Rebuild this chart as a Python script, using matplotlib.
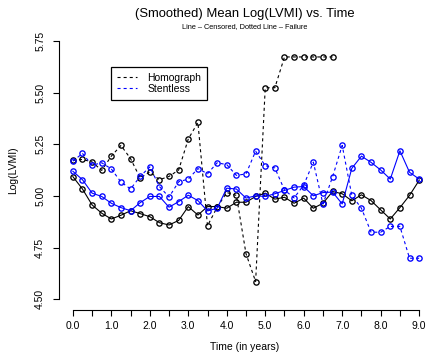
import numpy as np
import matplotlib
matplotlib.use('Agg')
import matplotlib.pyplot as plt

plt.rcParams['font.family'] = ['Liberation Sans', 'DejaVu Sans']
plt.rcParams['lines.scale_dashes'] = False

# yearly grid, smoothed every quarter year
times = np.arange(0, 9.01, 0.25)

homograph_fail = [5.172, 5.176, 5.164, 5.123, 5.192, 5.244, 5.180, 5.086,
                  5.116, 5.078, 5.094, 5.125, 5.275, 5.355, 4.855, 4.945,
                  5.016, 5.002, 4.720, 4.585, 5.523, 5.523, 5.672, 5.672,
                  5.672, 5.672, 5.672, 5.672]
stentless_fail = [5.168, 5.205, 5.148, 5.160, 5.130, 5.067, 5.033, 5.094,
                  5.140, 5.045, 4.994, 5.068, 5.081, 5.132, 5.107, 5.160,
                  5.151, 5.099, 5.106, 5.216, 5.146, 5.135, 5.028, 4.990,
                  5.052, 5.163, 4.960, 5.092, 5.244, 5.002, 4.940, 4.824,
                  4.824, 4.852, 4.852, 4.698, 4.698]
homograph_cens = [5.093, 5.033, 4.956, 4.916, 4.888, 4.906, 4.928, 4.914,
                  4.899, 4.870, 4.859, 4.881, 4.948, 4.907, 4.948, 4.948,
                  4.940, 4.969, 4.969, 4.997, 5.013, 4.984, 4.993, 4.964,
                  4.989, 4.940, 4.964, 5.021, 5.010, 4.976, 5.005, 4.977,
                  4.932, 4.888, 4.943, 5.002, 5.075]
stentless_cens = [5.119, 5.078, 5.013, 4.997, 4.964, 4.943, 4.928, 4.967,
                  4.997, 4.997, 4.945, 4.972, 5.003, 4.977, 4.927, 4.940,
                  5.037, 5.033, 4.989, 5.000, 4.997, 5.010, 5.026, 5.042,
                  5.045, 5.000, 5.016, 5.018, 4.961, 5.133, 5.192, 5.162,
                  5.125, 5.081, 5.218, 5.114, 5.081]

x_ticks = np.arange(0, 9.01, 0.5)
x_labels = ['{:.1f}'.format(t) if t % 1 == 0 else '' for t in x_ticks]
y_ticks = [4.50, 4.75, 5.00, 5.25, 5.50, 5.75]
y_labels = ['4.50', '4.75', '5.00', '5.25', '5.50', '5.75']

DASH = (0, (2.2, 2.2))


def draw_series(ax, y, color, ls):
    t = times[:len(y)]
    ax.plot(t, y, color=color, linestyle=ls, linewidth=0.8,
            marker='o', markersize=3.8, markerfacecolor='none',
            markeredgecolor=color, markeredgewidth=0.95)


def main():
    fig = plt.figure(figsize=(4.26, 3.53), dpi=100)
    ax = fig.add_axes([59/426, 43.5/353, 374/426, 279/353])

    draw_series(ax, homograph_cens, 'black', '-')
    draw_series(ax, homograph_fail, 'black', DASH)
    draw_series(ax, stentless_cens, 'blue', '-')
    draw_series(ax, stentless_fail, 'blue', DASH)

    ax.set_xlim(-0.36, 9.36)
    ax.set_ylim(4.45, 5.80)
    for side in ['top', 'right']:
        ax.spines[side].set_visible(False)
    ax.spines['bottom'].set_bounds(0, 9)
    ax.spines['left'].set_bounds(4.5, 5.75)
    for side in ['bottom', 'left']:
        ax.spines[side].set_linewidth(0.8)

    ax.set_xticks(x_ticks)
    ax.set_xticklabels(x_labels, fontsize=7.5)
    ax.set_yticks(y_ticks)
    ax.set_yticklabels(y_labels, fontsize=7.5, rotation=90, va='center')
    ax.tick_params(axis='both', length=4, width=0.8)
    ax.tick_params(axis='x', pad=4)
    ax.tick_params(axis='y', pad=6)

    fig.text(245/426, 1 - 14.5/353, '(Smoothed) Mean Log(LVMI) vs. Time',
             ha='center', va='center', fontsize=9.4)
    fig.text(245/426, 1 - 26.5/353, 'Line \u2013 Censored, Dotted Line \u2013 Failure',
             ha='center', va='center', fontsize=5.3)
    fig.text(245/426, 1 - 347/353, 'Time (in years)',
             ha='center', va='center', fontsize=7.5)
    fig.text(13.5/426, 1 - 170/353, 'Log(LVMI)', rotation=90,
             ha='center', va='center', fontsize=7.5)

    handles = [plt.Line2D([], [], color='black', linestyle=DASH, linewidth=0.8),
               plt.Line2D([], [], color='blue', linestyle=DASH, linewidth=0.8)]
    leg = fig.legend(handles, ['Homograph', 'Stentless'], loc='upper left',
                     bbox_to_anchor=(110.7/426, 1 - 66.7/353),
                     fontsize=7.5, handlelength=1.9, handletextpad=1.0,
                     borderpad=0.6, labelspacing=0.1, borderaxespad=0,
                     fancybox=False, framealpha=1)
    leg.get_frame().set_edgecolor('black')
    leg.get_frame().set_linewidth(0.9)

    fig.savefig('out.png', dpi=100)


if __name__ == '__main__':
    main()
